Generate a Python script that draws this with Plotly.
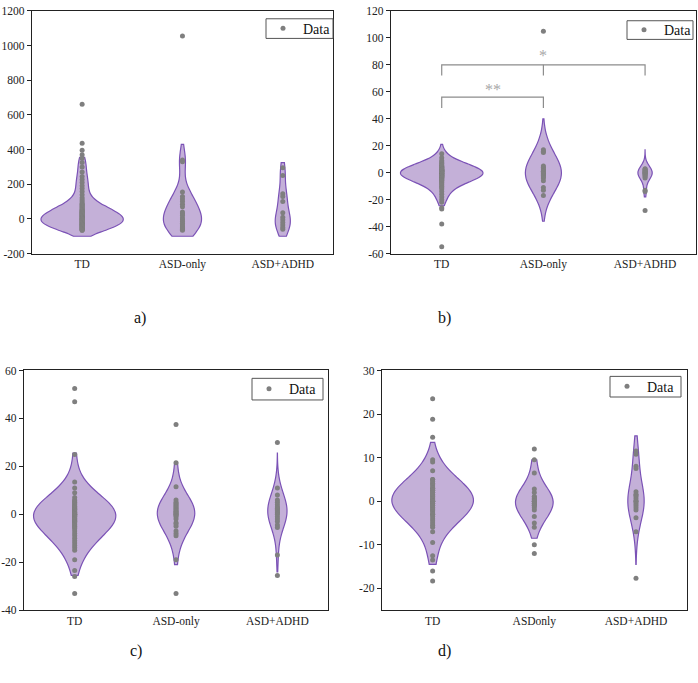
import plotly.graph_objects as go

# ---------------- data ----------------
cats_ab = ["TD", "ASD-only", "ASD+ADHD"]
cats_c = ["TD", "ASD-only", "ASD+ADHD"]
cats_d = ["TD", "ASDonly", "ASD+ADHD"]

# panel a
a_td = [661, 437, 396, 370, 350, 325, 300, 270, 245, 228, 210, 192, 175, 158, 140, 122,
        110, 100, 90, 85, 80, 75, 70, 65, 60, 55, 50, 50, 45, 40, 40, 35, 35, 30, 30,
        25, 25, 20, 20, 15, 15, 10, 10, 5, 5, 0, 0, 0, -5, -5, -10, -10, -15, -15,
        -20, -20, -25, -25, -30, -30, -35, -35, -40, -40, -45, -45, -50, -50, -55,
        -55, -60, -60, -65, -65]
a_asd = [1055, 340, 330, 155, 130, 115, 100, 85, 70, 40, 30, 20, 5, -5, -15, -25, -35,
         -45, -55, -65, -60, -50]
a_adhd = [295, 250, 145, 130, 100, 35, 10, -5, -20, -35, -50, -60]

# panel b
b_td = [14, 11, 9, 8, 7, 6, 5, 5, 4, 4, 4, 3, 3, 3, 3, 2, 2, 2, 2, 2, 1, 1, 1, 1, 1,
        1, 0, 0, 0, 0, 0, 0, -1, -1, -1, -1, -1, -2, -2, -2, -2, -2, -3, -3, -3, -3,
        -4, -4, -4, -5, -5, -6, -6, -7, -8, -9, -10, -11, -12, -14, -16, -18, -20,
        -22, -26, -27, -38, -55]
b_asd = [105, 17, 16, 15, 5, 4, 3, 2, 1, 1, 0, 0, -1, -1, -2, -3, -4, -6, -11, -13, -17]
b_adhd = [3, 2.5, 2, 1.5, 1, 0.5, 0, 0, -0.5, -1, -1.5, -2, -3, -4, -13, -14, -28]

# panel c
c_td = [52.5, 47, 25, 13.5, 11, 9, 7, 6, 5.5, 5, 4.5, 4, 3.5, 3, 3, 2.5, 2, 2, 1.5, 1,
        1, 0.5, 0.5, 0, 0, 0, -0.5, -0.5, -1, -1, -1.5, -2, -2, -2.5, -3, -3, -3.5,
        -4, -4.5, -5, -5.5, -6, -7, -8, -9, -10, -11, -12, -13, -14, -15, -19, -23.5,
        -26, -33]
c_asd = [37.5, 21.5, 11.5, 6, 5, 4.5, 4, 3.5, 3, 2.5, 2, 1.5, 1, 1, 0.5, 0, 0, -0.5,
         -1, -2, -3.5, -4, -5, -7, -8, -9, -19, -33]
c_adhd = [30, 11, 8, 6, 5, 4, 3, 2.5, 2, 1.5, 1, 0.5, 0, -1, -2, -3, -4.5, -5.5, -17,
          -25.5]

# panel d
d_td = [23.5, 18.8, 14.7, 9.5, 9, 7, 5, 5, 4.5, 4, 4, 3.5, 3, 3, 2.5, 2.5, 2, 2, 1.5,
        1.5, 1, 1, 0.5, 0.5, 0, 0, 0, 0, -0.5, -0.5, -1, -1, -1.5, -1.5, -2, -2, -2.5,
        -3, -3, -3.5, -4, -4.5, -5, -5.5, -6, -7, -9.5, -12.5, -13.5, -16, -18.3]
d_asd = [12, 9.5, 6.5, 2.8, 2, 1, 1, 0.5, 0.5, 0, 0, 0, -0.5, -0.5, -1, -1, -1.5, -2,
         -3.5, -5, -6, -10, -12]
d_adhd = [11.5, 10.8, 8, 7.5, 2.2, 1.5, 1.5, 1, 0.5, 0, 0, -0.5, -1, -1.5, -2, -3.8,
          -7, -17.7]

y_ticks_a = [-200, 0, 200, 400, 600, 800, 1000, 1200]
y_ticks_b = [-60, -40, -20, 0, 20, 40, 60, 80, 100, 120]
y_ticks_c = [-40, -20, 0, 20, 40, 60]
y_ticks_d = [-20, -10, 0, 10, 20, 30]

panel_labels = ["a)", "b)", "c)", "d)"]
sig_labels = ["**", "*"]
legend_label = "Data"

# ---------------- styles ----------------
FONT = "Liberation Serif, Times New Roman, serif"
FILL = "rgb(196,176,216)"
LINE = "#7b52b6"
PT = "#7f7f7f"
W, H = 698, 683

panels = [
    dict(cats=cats_ab, data=[a_td, a_asd, a_adhd],
         spans=[[-100, 355], [-100, 430], [-100, 325]],
         widths=[0.82, 0.38, 0.15], bws=[38, 70, 60],
         xd=[0.0458, 0.477], yd=[0.631, 0.9927], yr=[-200, 1200], yt=y_ticks_a,
         box=[266, 333, 13, 33]),
    dict(cats=cats_ab, data=[b_td, b_asd, b_adhd],
         spans=[[-24.5, 21], [-36, 40], [-18, 17]],
         widths=[0.81, 0.355, 0.14], bws=[5.5, 12, 4.5],
         xd=[0.560, 0.997], yd=[0.631, 0.9927], yr=[-60, 120], yt=y_ticks_b,
         box=[627, 693, 15, 34]),
    dict(cats=cats_c, data=[c_td, c_asd, c_adhd],
         spans=[[-25.5, 25.5], [-21, 21.5], [-24, 25.5]],
         widths=[0.81, 0.37, 0.19], bws=[7, 6.5, 6],
         xd=[0.0344, 0.470], yd=[0.0996, 0.4568], yr=[-40, 60], yt=y_ticks_c,
         box=[252, 323, 379, 401]),
    dict(cats=cats_d, data=[d_td, d_asd, d_adhd],
         spans=[[-14.5, 13.5], [-8.5, 9.5], [-14.5, 15]],
         widths=[0.80, 0.37, 0.16], bws=[3.6, 3.2, 4],
         xd=[0.547, 0.984], yd=[0.0996, 0.4568], yr=[-25, 30], yt=y_ticks_d,
         box=[610, 681, 377, 398]),
]

fig = go.Figure()
layout = dict(
    width=W, height=H, margin=dict(l=0, r=0, t=0, b=0),
    paper_bgcolor="white", plot_bgcolor="white",
    violinmode="overlay",
    font=dict(family=FONT, size=12, color="#222"),
    showlegend=True,
)
shapes = []

for i, p in enumerate(panels):
    sfx = "" if i == 0 else str(i + 1)
    xa, ya = "x" + sfx, "y" + sfx
    lg = "legend" + sfx
    for cat, vals, span, w, bw in zip(p["cats"], p["data"], p["spans"], p["widths"], p["bws"]):
        inl = [v for v in vals if span[0] <= v <= span[1]]  # density of non-outliers
        fig.add_trace(go.Violin(
            x=[cat] * len(inl), y=inl, xaxis=xa, yaxis=ya,
            spanmode="manual", span=span, width=w, bandwidth=bw,
            fillcolor=FILL, line=dict(color=LINE, width=1.2), opacity=1,
            points=False, box_visible=False, meanline_visible=False,
            showlegend=False, hoverinfo="skip", scalemode="width",
        ))
    xs, ys = [], []
    for cat, vals in zip(p["cats"], p["data"]):
        xs += [cat] * len(vals)
        ys += vals
    fig.add_trace(go.Scatter(
        x=xs, y=ys, xaxis=xa, yaxis=ya, mode="markers", name=legend_label,
        marker=dict(color=PT, size=5, symbol="circle"),
        legend=lg, showlegend=True,
    ))
    layout["xaxis" + sfx] = dict(
        domain=p["xd"], anchor=ya, type="category",
        categoryorder="array", categoryarray=p["cats"], range=[-0.5, 2.5],
        showline=True, mirror=True, linecolor="#222", linewidth=1.2,
        ticks="", showgrid=False, zeroline=False,
        tickfont=dict(family=FONT, size=11.5, color="#222"),
    )
    layout["yaxis" + sfx] = dict(
        domain=p["yd"], anchor=xa, range=p["yr"], tickvals=p["yt"],
        ticktext=[str(v) for v in p["yt"]],
        showline=True, mirror=True, linecolor="#222", linewidth=1.2,
        ticks="outside", ticklen=4, tickcolor="#222", showgrid=False, zeroline=False,
        tickfont=dict(family=FONT, size=11.5, color="#222"),
    )
    bx0, bx1, by0, by1 = p["box"]
    layout[lg] = dict(
        x=(bx0 - 3) / W, y=1 - (by0 + by1) / 2 / H, xanchor="left", yanchor="middle",
        xref="paper", yref="paper",
        bgcolor="rgba(0,0,0,0)", borderwidth=0,
        font=dict(family=FONT, size=14, color="#111"),
        itemwidth=30,
    )
    shapes.append(dict(type="rect", xref="paper", yref="paper",
                       x0=bx0 / W, x1=bx1 / W, y0=1 - by1 / H, y1=1 - by0 / H,
                       line=dict(color="#555", width=1), fillcolor="rgba(0,0,0,0)",
                       layer="above"))

# significance brackets in panel b
shapes += [
    dict(type="path", xref="x2", yref="y2", path="M 0,48 L 0,56 L 1,56 L 1,48",
         line=dict(color="#8c8c8c", width=1.2)),
    dict(type="path", xref="x2", yref="y2", path="M 0,72 L 0,80 L 2,80 L 2,72",
         line=dict(color="#8c8c8c", width=1.2)),
    dict(type="line", xref="x2", yref="y2", x0=1, x1=1, y0=72, y1=80,
         line=dict(color="#8c8c8c", width=1.2)),
]
annotations = [
    dict(xref="x2", yref="y2", x=0.5, y=61.5, text=sig_labels[0], showarrow=False,
         font=dict(family=FONT, size=16, color="#a8a8a8")),
    dict(xref="x2", yref="y2", x=1, y=87, text=sig_labels[1], showarrow=False,
         font=dict(family=FONT, size=16, color="#a8a8a8")),
]
label_pos = [(132, 318), (445, 318), (128, 668), (445, 668)]
for t, (px, py) in zip(panel_labels, label_pos):
    annotations.append(dict(xref="paper", yref="paper", x=px / W, y=1 - py / H,
                            text=t, showarrow=False,
                            font=dict(family=FONT, size=16, color="#111")))
layout["shapes"] = shapes
layout["annotations"] = annotations
fig.update_layout(**layout)
fig.write_html("out.html")
